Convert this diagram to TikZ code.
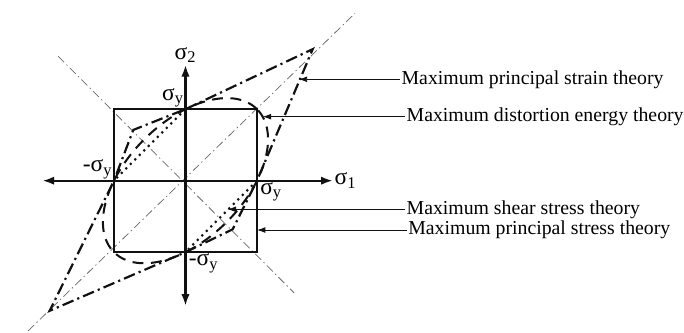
\documentclass[tikz,border=0pt]{standalone}
\usepackage{fontspec}
\setmainfont{Liberation Serif}
\usetikzlibrary{arrows.meta, positioning, calc}
\definecolor{cink}{HTML}{111111}
\definecolor{cgrey}{HTML}{6B6B6B}
\newcommand{\sig}[1]{σ\textsubscript{#1}}
\tikzset{
  every picture/.style={line width=1pt, draw=cink},
  axis/.style={{Latex[length=7pt,width=5pt]}-{Latex[length=7pt,width=5pt]}, line width=1.3pt},
  diag/.style={draw=cgrey, line width=0.45pt, dash pattern=on 5pt off 2pt on 0.8pt off 2pt},
  rankine/.style={line width=1.2pt},
  vonmises/.style={line width=1.2pt, dash pattern=on 6.5pt off 4.5pt},
  tresca/.style={line width=1.3pt, dash pattern=on 1.2pt off 2.6pt},
  strain/.style={line width=1.3pt, dash pattern=on 7pt off 2.5pt on 1.3pt off 2.5pt},
  pointer/.style={-{Latex[length=5pt,width=3.5pt]}, line width=0.55pt},
  theorytext/.style={font=\fontsize{11.8}{14}\selectfont, anchor=west, inner sep=0.5pt},
  sigtext/.style={font=\fontsize{14}{16}\selectfont, inner sep=0.5pt},
}
\begin{document}
\begin{tikzpicture}[x=1.5cm, y=1.5cm]
  \useasboundingbox (-2.594,-2.130) rectangle (6.972,2.527);
  % points of the yield loci, in units of sigma_y
  \coordinate (o) at (0,0);
  \coordinate (px) at (1,0);
  \coordinate (mx) at (-1,0);
  \coordinate (py) at (0,1);
  \coordinate (my) at (0,-1);
  \coordinate (q1) at (1.78,1.84);
  \coordinate (q2) at (-0.73,0.71);
  \coordinate (q3) at (-1.9,-1.82);
  \coordinate (q4) at (0.66,-0.68);

  \draw[diag] (-2.2,-2.1) -- (2.37,2.34);
  \draw[diag] (-1.78,1.74) -- (1.52,-1.57);

  \draw[axis] (-2.0,0) -- (2.06,0) node[sigtext, right] (s1) {\sig{1}};
  \draw[axis] (0,-1.75) -- (0,1.62) node[sigtext, above] (s2) {\sig{2}};

  \draw[rankine] (-1,-1) rectangle (1,1);
  \draw[vonmises, rotate=45] (o) ellipse [x radius=1.4142, y radius=0.8165];
  \draw[tresca] (py) -- (mx);
  \draw[tresca] (px) -- (my);
  \draw[strain] (py) -- (q1) -- (px) -- (q4) -- (my) -- (q3) -- (mx) -- (q2) -- cycle;

  \node[sigtext, above left=0pt and 0pt of py] (syt) {\sig{y}};
  \node[sigtext, above left=0pt and 0pt of mx] (syl) {-\sig{y}};
  \node[sigtext, below right=0pt and 1pt of px] (syr) {\sig{y}};
  \node[sigtext, below right=0pt and 1pt of my] (syb) {-\sig{y}};

  % theory labels with their pointers
  \node[theorytext] (strainlbl) at (3.0,1.418) {Maximum principal strain theory};
  \node[theorytext] (distlbl) at (3.07,0.895) {Maximum distortion energy theory};
  \node[theorytext] (shearlbl) at (3.07,-0.40) {Maximum shear stress theory};
  \node[theorytext] (stresslbl) at (3.094,-0.69) {Maximum principal stress theory};
  \coordinate (straintip) at ($(px)!0.75!(q1)$);
  \coordinate (disttip) at (1.08,0.895);
  \coordinate (sheartip) at ($(px)!0.41!(my)$);
  \coordinate (stresstip) at (1,-0.69);
  \draw[pointer] (strainlbl.west) -- (strainlbl.west -| straintip);
  \draw[pointer] (distlbl.west) -- (distlbl.west -| disttip);
  \draw[pointer] (shearlbl.west) -- (shearlbl.west -| sheartip);
  \draw[pointer] (stresslbl.west) -- (stresslbl.west -| stresstip);
\end{tikzpicture}
\end{document}
